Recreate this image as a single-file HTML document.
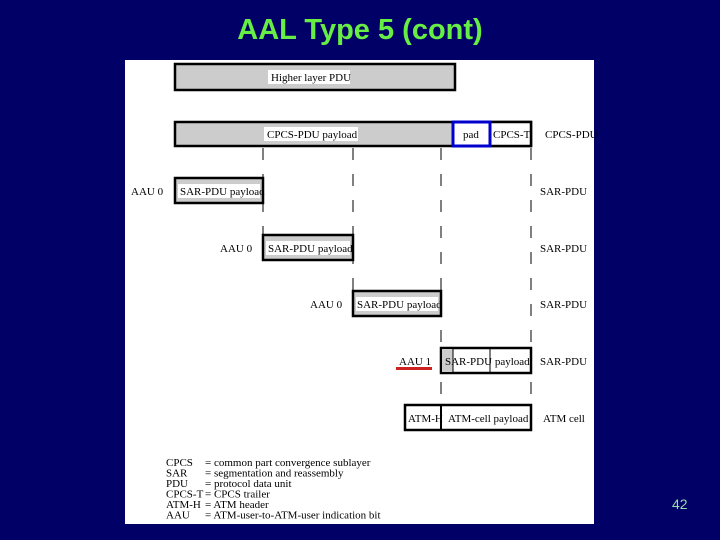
<!DOCTYPE html>
<html><head><meta charset="utf-8"><style>
html,body{margin:0;padding:0;background:#000066;}
#s{position:relative;width:720px;height:540px;background:#000066;overflow:hidden;}
.t{position:absolute;left:0;top:14px;width:720px;text-align:center;font:bold 29px "Liberation Sans",sans-serif;color:#66ee44;}
.n{position:absolute;left:672px;top:496px;font:14px "Liberation Sans",sans-serif;color:#99ddaa;}
svg text{font-family:"Liberation Serif",serif;font-size:11px;fill:#000;}
</style></head><body><div id="s">
<div class="t">AAL Type 5 (cont)</div>
<div class="n">42</div>
<svg style="position:absolute;left:0;top:0" width="720" height="540">
<rect x="125" y="60" width="469" height="464" fill="#fff"/>
<g stroke="#000" stroke-width="1" stroke-dasharray="12,14">
<line x1="263" y1="148" x2="263" y2="235"/>
<line x1="353" y1="148" x2="353" y2="291"/>
<line x1="441" y1="148" x2="441" y2="405"/>
<line x1="531" y1="148" x2="531" y2="405"/>
</g>
<g stroke="#000" stroke-width="2.5">
<rect x="175" y="64" width="280" height="26" fill="#ccc"/>
<rect x="175" y="122" width="356" height="24" fill="#ccc"/>
<rect x="490" y="122" width="41" height="24" fill="#fff"/>
<rect x="175" y="178" width="88" height="25" fill="#ccc"/>
<rect x="263" y="235" width="90" height="25" fill="#ccc"/>
<rect x="353" y="291" width="88" height="25" fill="#ccc"/>
<rect x="441" y="348" width="90" height="25" fill="#fff"/>
<rect x="405" y="405" width="126" height="25" fill="#fff"/>
</g>
<rect x="453" y="122" width="37" height="24" fill="#fff" stroke="#0000cc" stroke-width="3"/>
<rect x="442" y="349" width="11" height="23" fill="#ccc"/>
<line x1="453" y1="349" x2="453" y2="372" stroke="#000"/>
<line x1="490" y1="349" x2="490" y2="372" stroke="#000"/>
<line x1="441" y1="405" x2="441" y2="430" stroke="#000" stroke-width="2"/>
<g fill="#fff">
<rect x="268" y="70" width="82" height="14"/>
<rect x="264" y="127" width="94" height="14"/>
<rect x="178" y="184" width="82" height="14"/>
<rect x="266" y="241" width="84" height="14"/>
<rect x="356" y="297" width="82" height="14"/>
</g>
<text x="271" y="81">Higher layer PDU</text>
<text x="267" y="138">CPCS-PDU payload</text>
<text x="463" y="138">pad</text>
<text x="493" y="138">CPCS-T</text>
<text x="545" y="138">CPCS-PDU</text>
<text x="180" y="195">SAR-PDU payload</text>
<text x="268" y="252">SAR-PDU payload</text>
<text x="357" y="308">SAR-PDU payload</text>
<text x="445" y="365">SAR-PDU payload</text>
<text x="408" y="422">ATM-H</text>
<text x="448" y="422">ATM-cell payload</text>
<text x="131" y="195">AAU 0</text>
<text x="220" y="252">AAU 0</text>
<text x="310" y="308">AAU 0</text>
<text x="399" y="365">AAU 1</text>
<rect x="396" y="367" width="36" height="3" fill="#cc2222"/>
<text x="540" y="195">SAR-PDU</text>
<text x="540" y="252">SAR-PDU</text>
<text x="540" y="308">SAR-PDU</text>
<text x="540" y="365">SAR-PDU</text>
<text x="543" y="422">ATM cell</text>
<g font-size="10.5">
<text x="166" y="466">CPCS</text><text x="205" y="466">= common part convergence sublayer</text>
<text x="166" y="476.5">SAR</text><text x="205" y="476.5">= segmentation and reassembly</text>
<text x="166" y="487">PDU</text><text x="205" y="487">= protocol data unit</text>
<text x="166" y="497.5">CPCS-T</text><text x="205" y="497.5">= CPCS trailer</text>
<text x="166" y="508">ATM-H</text><text x="205" y="508">= ATM header</text>
<text x="166" y="518.5">AAU</text><text x="205" y="518.5">= ATM-user-to-ATM-user indication bit</text>
</g>
</svg>
</div></body></html>
